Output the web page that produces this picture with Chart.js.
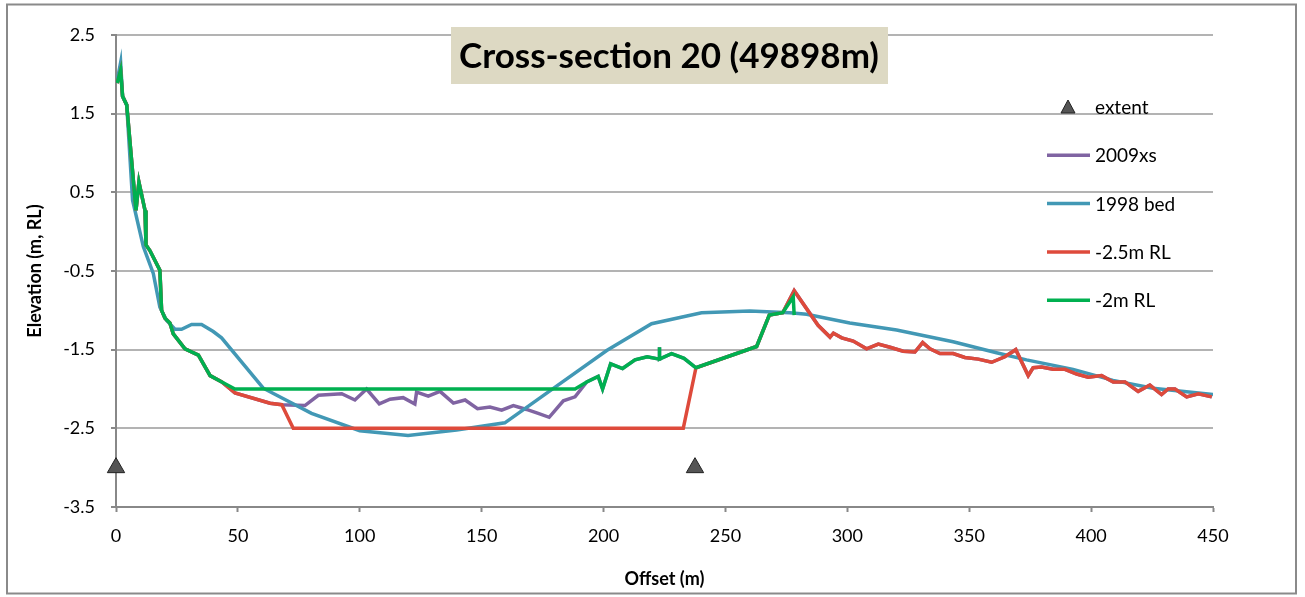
<!DOCTYPE html>
<html>
<head>
<meta charset="utf-8">
<script src="https://cdn.jsdelivr.net/npm/chart.js@4.4.0/dist/chart.umd.min.js"></script>
<style>
    html, body { margin: 0; padding: 0; background: #fff; }
    #wrap { width: 1305px; height: 597px; }
</style>
</head>
<body>
<div id="wrap"><canvas id="xsChart" width="1305" height="597"></canvas></div>
<script>
// Tick labels
const xTicks = [0, 50, 100, 150, 200, 250, 300, 350, 400, 450];
const yTicks = [-3.5, -2.5, -1.5, -0.5, 0.5, 1.5, 2.5];

// Extent markers
const extentX = [0, 237.5];
const extentY = [-3.0, -3.0];

// Left bank (shared by 2009xs, -2.5m RL and -2m RL)
const bankX = [0.5, 1.9, 2.7, 4.4, 8.2, 9.4, 11.9, 12.3, 13.9, 18.0, 18.7, 20.1, 22.1, 23.5, 28.3, 33.8, 38.6, 43.4];
const bankY = [1.89, 2.05, 1.72, 1.61, 0.27, 0.63, 0.27, -0.17, -0.24, -0.49, -1.00, -1.10, -1.16, -1.30, -1.49, -1.57, -1.83, -1.91];

// 2009 survey in the channel
const chanX = [48.8, 63.2, 68.0, 77.5, 83.0, 92.6, 98.0, 102.8, 108.0, 112.4, 117.8, 122.6, 123.3, 128.1, 132.9,
    138.4, 143.2, 148.3, 153.4, 158.2, 163.0, 168.4, 173.2, 177.7, 183.5, 188.3];
const chanY = [-2.05, -2.18, -2.20, -2.21, -2.08, -2.06, -2.14, -2.00, -2.19, -2.13, -2.11, -2.19, -2.04, -2.09, -2.03,
    -2.18, -2.14, -2.25, -2.23, -2.27, -2.21, -2.26, -2.31, -2.36, -2.15, -2.10];

// -2m RL design in the channel
const fill2X = [48.8, 188.3];
const fill2Y = [-2.0, -2.0];

// -2.5m RL design in the channel
const cut25X = [48.8, 63.2, 68.0, 72.7, 232.7];
const cut25Y = [-2.05, -2.18, -2.20, -2.5, -2.5];

// Middle bar (shared)
const midX = [193.1, 197.8, 199.6, 202.9, 207.8, 212.9, 217.9, 222.8, 222.9, 223.0, 227.9, 233.0, 237.9, 262.8, 268.0, 273.5];
const midY = [-1.91, -1.84, -2.00, -1.68, -1.74, -1.63, -1.59, -1.62, -1.47, -1.62, -1.55, -1.61, -1.73, -1.46, -1.06, -1.03];

// -2m RL end
const endX = [277.8, 278.2];
const endY = [-0.83, -1.06];

// Right side (shared by 2009xs and -2.5m RL)
const rightX = [278.2, 288.0, 292.9, 294.3, 297.7, 302.4, 307.9, 312.7, 317.5, 322.9, 327.7, 330.9, 333.9, 338.0,
    343.4, 348.2, 353.7, 359.2, 364.6, 369.1, 374.2, 376.2, 379.7, 384.4, 389.3, 394.1, 398.8, 404.3, 409.1,
    413.9, 419.3, 424.1, 428.9, 431.6, 434.4, 439.2, 444.0, 449.5];
const rightY = [-0.75, -1.19, -1.34, -1.29, -1.35, -1.39, -1.49, -1.43, -1.47, -1.52, -1.53, -1.41, -1.49, -1.55,
    -1.55, -1.60, -1.62, -1.66, -1.59, -1.50, -1.83, -1.73, -1.72, -1.75, -1.75, -1.81, -1.85, -1.83, -1.91,
    -1.91, -2.03, -1.95, -2.07, -2.00, -2.00, -2.10, -2.06, -2.10];

// 1998 bed
const bedX = [0.3, 1.9, 2.7, 4.4, 6.8, 11.2, 15.3, 18.0, 20.8, 24.2, 26.9, 31.0, 35.1, 39.9, 43.3, 60.4, 80.2,
    100.0, 119.8, 139.7, 159.5, 180.0, 201.3, 219.7, 240.2, 260.0, 276.4, 283.3, 301.0, 320.2, 343.4, 361.2,
    373.5, 392.6, 409.0, 425.4, 450.0];
const bedY = [1.89, 2.15, 1.72, 1.61, 0.40, -0.19, -0.53, -0.96, -1.13, -1.24, -1.24, -1.18, -1.18, -1.27, -1.35,
    -1.99, -2.31, -2.53, -2.59, -2.52, -2.43, -1.98, -1.51, -1.17, -1.03, -1.01, -1.03, -1.05, -1.16, -1.25,
    -1.40, -1.54, -1.63, -1.75, -1.89, -1.99, -2.07];

function pts(xs, ys) {
    return xs.map((x, i) => ({ x: x, y: ys[i] }));
}

const midFrom = midX.indexOf(237.9);

const series2009 = pts(bankX, bankY).concat(pts(chanX, chanY), pts(midX, midY), pts(rightX, rightY));
const series2m = pts(bankX, bankY).concat(pts(fill2X, fill2Y), pts(midX, midY), pts(endX, endY));
const series25 = pts(bankX, bankY).concat(pts(cut25X, cut25Y), pts(midX.slice(midFrom), midY.slice(midFrom)), pts(rightX, rightY));
const seriesBed = pts(bedX, bedY);

const FONT = 'Lato, "Open Sans", sans-serif';

function lineSet(label, data, color, order) {
    return {
        label: label,
        data: data,
        showLine: true,
        borderColor: color,
        backgroundColor: color,
        borderWidth: 3.5,
        pointRadius: 0,
        tension: 0,
        order: order
    };
}

// legend, title box, axis titles and outer frame
const decorPlugin = {
    id: 'decor',
    beforeDraw: function (chart) {
        const ctx = chart.ctx;
        ctx.save();
        ctx.fillStyle = '#ffffff';
        ctx.fillRect(0, 0, chart.width, chart.height);
        ctx.restore();
    },
    afterDraw: function (chart) {
        const ctx = chart.ctx;
        const area = chart.chartArea;
        ctx.save();

        // frame
        ctx.strokeStyle = '#8a8a8a';
        ctx.lineWidth = 2;
        ctx.strokeRect(7, 4.5, 1289, 589);

        // title box
        ctx.fillStyle = '#DDD9C3';
        ctx.fillRect(451, 27, 437, 57);
        ctx.fillStyle = '#000';
        ctx.textAlign = 'center';
        ctx.textBaseline = 'middle';
        let size = 32;
        ctx.font = 'bold ' + size + 'px ' + FONT;
        const title = 'Cross-section 20 (49898m)';
        const w = ctx.measureText(title).width;
        size = Math.round(size * 416 / w);
        ctx.font = 'bold ' + size + 'px ' + FONT;
        ctx.fillText(title, 669, 57);

        // axis titles
        ctx.font = 'bold 18px ' + FONT;
        ctx.fillText('Offset (m)', (area.left + area.right) / 2, 579);
        ctx.save();
        ctx.translate(35, (area.top + area.bottom) / 2);
        ctx.rotate(-Math.PI / 2);
        ctx.fillText('Elevation (m, RL)', 0, 0);
        ctx.restore();

        // legend
        const items = [0, 1, 2, 3, 4].map(i => chart.data.datasets[i]);
        ctx.font = '19px ' + FONT;
        ctx.textAlign = 'left';
        items.forEach((ds, i) => {
            const y = 107 + i * 48.3;
            if (i === 0) {
                ctx.beginPath();
                ctx.moveTo(1068, y - 7);
                ctx.lineTo(1075, y + 6);
                ctx.lineTo(1061, y + 6);
                ctx.closePath();
                ctx.fillStyle = ds.backgroundColor;
                ctx.fill();
                ctx.strokeStyle = ds.borderColor;
                ctx.lineWidth = 1;
                ctx.stroke();
            } else {
                ctx.beginPath();
                ctx.moveTo(1047, y);
                ctx.lineTo(1090, y);
                ctx.strokeStyle = ds.borderColor;
                ctx.lineWidth = 3.5;
                ctx.stroke();
            }
            ctx.fillStyle = '#000';
            ctx.fillText(ds.label, 1095, y + 1);
        });
        ctx.restore();
    }
};

const ctx = document.getElementById('xsChart').getContext('2d');
new Chart(ctx, {
    type: 'scatter',
    data: {
        datasets: [
            {
                label: 'extent',
                data: pts(extentX, extentY),
                showLine: false,
                pointStyle: 'triangle',
                pointRadius: 10,
                backgroundColor: '#555555',
                borderColor: '#222222',
                borderWidth: 1,
                clip: false,
                order: 0
            },
            lineSet('2009xs', series2009, '#8064A2', 4),
            lineSet('1998 bed', seriesBed, '#4298B5', 3),
            lineSet('-2.5m RL', series25, '#DE4A3B', 2),
            lineSet('-2m RL', series2m, '#00B050', 1)
        ]
    },
    options: {
        responsive: false,
        devicePixelRatio: 1,
        animation: false,
        events: [],
        layout: { padding: { left: 0, right: 92, top: 35, bottom: 0 } },
        plugins: {
            legend: { display: false },
            tooltip: { enabled: false },
            title: { display: false }
        },
        scales: {
            x: {
                type: 'linear',
                min: 0,
                max: 450,
                afterFit: function (scale) { scale.height = 90; },
                afterBuildTicks: function (scale) { scale.ticks = xTicks.map(v => ({ value: v })); },
                ticks: {
                    color: '#000',
                    font: { family: FONT, size: 18 },
                    padding: 13,
                    maxRotation: 0,
                    callback: v => String(v)
                },
                grid: {
                    drawOnChartArea: false,
                    tickLength: 5,
                    tickColor: '#888888',
                    tickWidth: 2
                },
                border: { color: '#888888', width: 2 }
            },
            y: {
                type: 'linear',
                min: -3.5,
                max: 2.5,
                afterFit: function (scale) { scale.width = 116; },
                afterBuildTicks: function (scale) { scale.ticks = yTicks.map(v => ({ value: v })); },
                ticks: {
                    color: '#000',
                    font: { family: FONT, size: 18 },
                    padding: 16,
                    callback: v => v.toFixed(1)
                },
                grid: {
                    color: '#b3b3b3',
                    lineWidth: 2,
                    tickLength: 5,
                    tickColor: '#888888',
                    tickWidth: 2
                },
                border: { color: '#888888', width: 2 }
            }
        }
    },
    plugins: [decorPlugin]
});
</script>
</body>
</html>
